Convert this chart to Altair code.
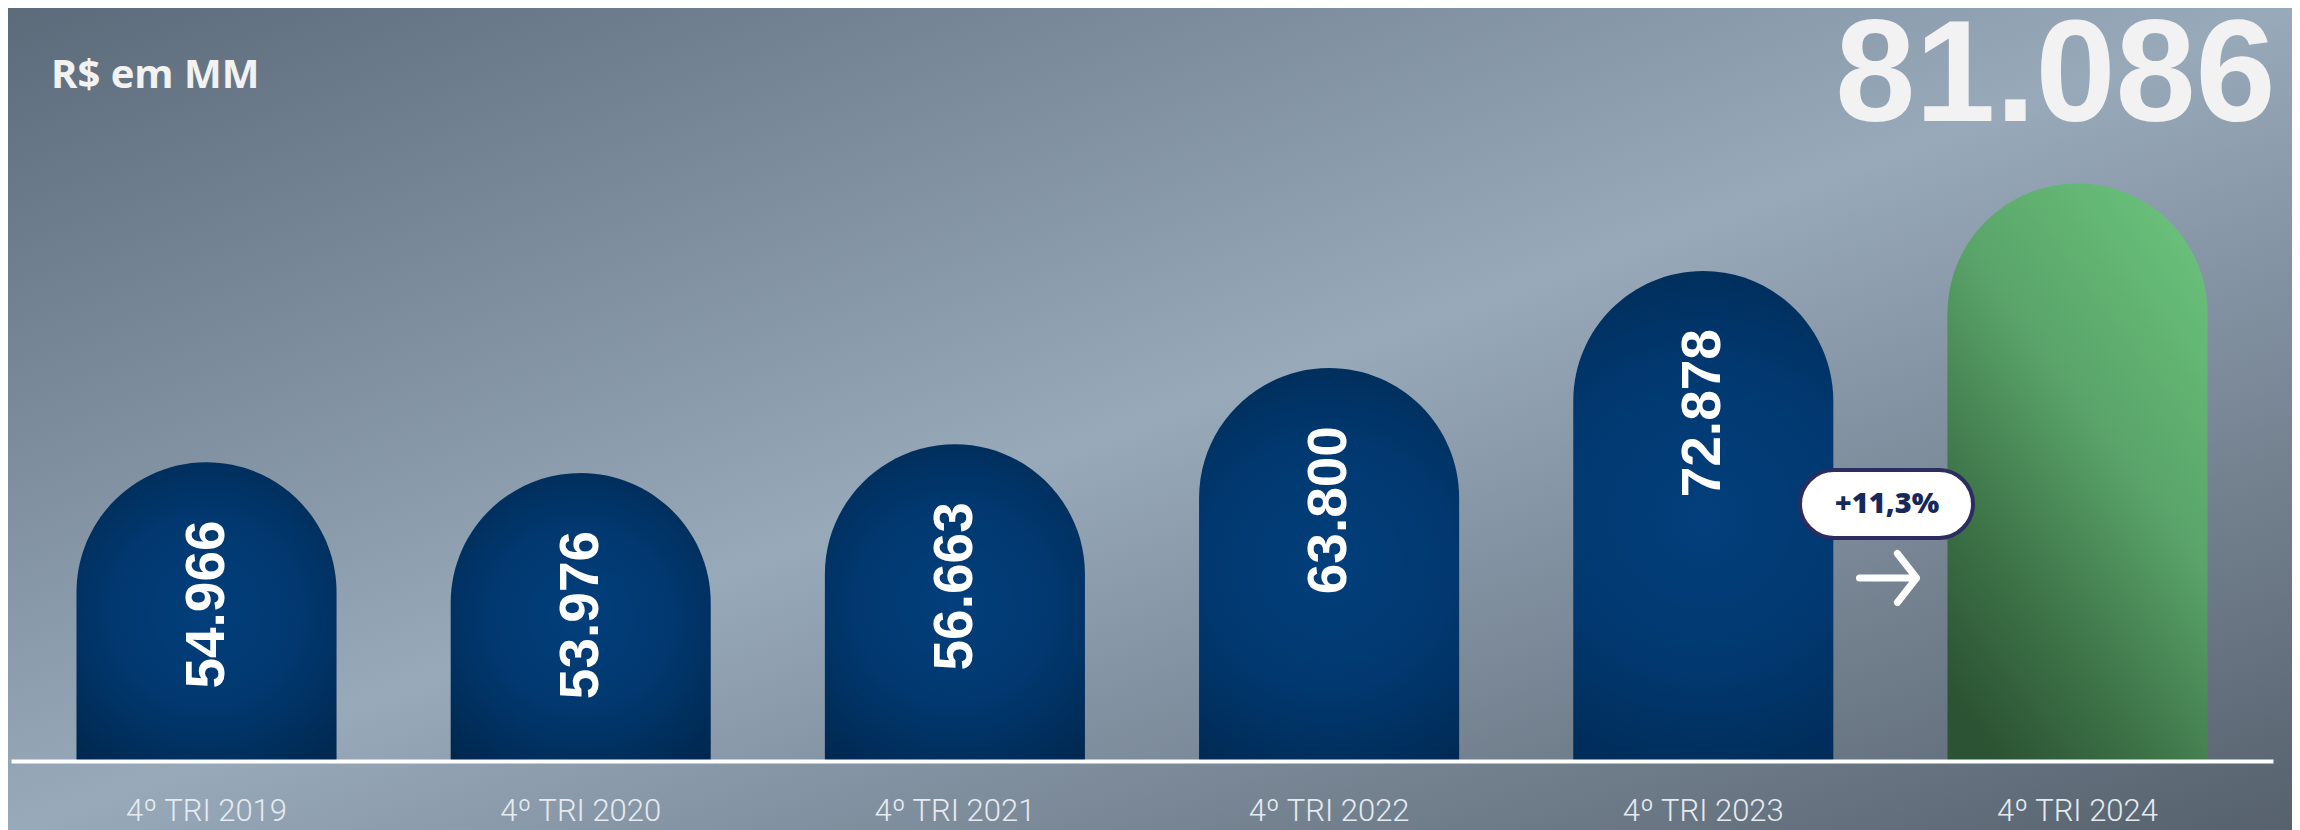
import altair as alt
import pandas as pd

# ---- data -------------------------------------------------------------
categories = ["4º TRI 2019", "4º TRI 2020", "4º TRI 2021", "4º TRI 2022", "4º TRI 2023", "4º TRI 2024"]
values = [54966, 53976, 56663, 63800, 72878, 81086]
highlight = [False, False, False, False, False, True]
unit_label = "R$ em MM"
growth_label = "+11,3%"

value_labels = [f"{v:,}".replace(",", ".") for v in values]

df = pd.DataFrame({
    "cat": categories,
    "value": values,
    "label": value_labels,
    "highlight": highlight,
})

# ---- layout -------------------------------------------------------------
W, H = 2262, 661
PAD_L, PAD_T = 3, 92
SVG_W, SVG_H = 2284, 822
PAD_R = SVG_W - PAD_L - W
PAD_B = SVG_H - PAD_T - H
Y_MIN, Y_MAX = 27000, 88900

x_enc = alt.X(
    "cat:N",
    sort=categories,
    scale=alt.Scale(paddingInner=0.305, paddingOuter=0.175),
    axis=alt.Axis(
        title=None,
        domainColor="#ffffff",
        domainWidth=4,
        ticks=False,
        tickSize=0,
        labelAngle=0,
        labelFont="Roboto",
        labelFontWeight=300,
        labelFontSize=31,
        labelColor="#e6ebf1",
        labelBaseline="alphabetic",
        labelPadding=59,
        zindex=2,
    ),
)
y_enc = alt.Y("value:Q", scale=alt.Scale(domain=[Y_MIN, Y_MAX], zero=False, nice=False), axis=None)
y2_enc = alt.datum(Y_MIN)

base = alt.Chart(df)

background = alt.Chart(pd.DataFrame({"k": [0]})).mark_rect(
    color=alt.Gradient(
        gradient="linear", x1=0, y1=0, x2=1, y2=1,
        stops=[
            alt.GradientStop(offset=0, color="#5c6b7a"),
            alt.GradientStop(offset=0.5, color="#98a9ba"),
            alt.GradientStop(offset=1, color="#56616d"),
        ],
    )
).encode(
    x=alt.value(-PAD_L), x2=alt.value(W + PAD_R),
    y=alt.value(-PAD_T), y2=alt.value(H + PAD_B),
)

blue_bars = base.transform_filter("!datum.highlight").mark_bar(
    cornerRadiusTopLeft=130,
    cornerRadiusTopRight=130,
    color=alt.Gradient(
        gradient="radial", x1=0.5, y1=0.5, r1=0, x2=0.5, y2=0.5, r2=0.7,
        stops=[
            alt.GradientStop(offset=0, color="#033f7c"),
            alt.GradientStop(offset=0.45, color="#01386f"),
            alt.GradientStop(offset=1, color="#00254a"),
        ],
    ),
).encode(x=x_enc, y=y_enc, y2=y2_enc)

green_bar = base.transform_filter("datum.highlight").mark_bar(
    cornerRadiusTopLeft=130,
    cornerRadiusTopRight=130,
    color=alt.Gradient(
        gradient="linear", x1=0.8, y1=0, x2=0.2, y2=1,
        stops=[
            alt.GradientStop(offset=0, color="#69c17a"),
            alt.GradientStop(offset=0.4, color="#5aa46a"),
            alt.GradientStop(offset=0.75, color="#3c7146"),
            alt.GradientStop(offset=1, color="#2c5333"),
        ],
    ),
).encode(x=x_enc, y=y_enc, y2=y2_enc)

bar_labels = base.transform_filter("!datum.highlight").mark_text(
    angle=270,
    align="right",
    baseline="middle",
    dx=-58,
    font="Liberation Sans",
    fontWeight="bold",
    fontSize=55,
    color="#ffffff",
).encode(x=x_enc, y=y_enc, text="label:N")

big_label = base.transform_filter("datum.highlight").mark_text(
    align="center",
    baseline="alphabetic",
    xOffset=-22,
    font="Liberation Sans",
    fontWeight="bold",
    fontSize=144,
    color="#f2f2f2",
).encode(x=x_enc, y=alt.value(21), text="label:N")

header = alt.Chart(pd.DataFrame({"t": [unit_label]})).mark_text(
    align="left",
    baseline="alphabetic",
    font="Open Sans",
    fontWeight=700,
    fontSize=40,
    color="#f2f2f2",
).encode(x=alt.value(40), y=alt.value(-12), text="t:N")

pill = alt.Chart(pd.DataFrame({"t": [growth_label]})).mark_rect(
    cornerRadius=34,
    fill="#ffffff",
    stroke="#2b2c5f",
    strokeWidth=4,
).encode(x=alt.value(1789), x2=alt.value(1962), y=alt.value(370), y2=alt.value(438))

pill_text = alt.Chart(pd.DataFrame({"t": [growth_label]})).mark_text(
    align="center",
    baseline="middle",
    font="Open Sans",
    fontWeight=800,
    fontSize=29,
    color="#16295a",
).encode(x=alt.value(1876), y=alt.value(404), text="t:N")

arrow = alt.Chart(pd.DataFrame({"t": [growth_label]})).mark_point(
    shape="M-1,0L1,0M0.33,-0.86L1,0L0.33,0.86",
    size=3249,
    filled=False,
    stroke="#ffffff",
    strokeWidth=7,
    strokeCap="round",
    strokeJoin="round",
    opacity=1,
).encode(x=alt.value(1877), y=alt.value(478))

chart = alt.layer(
    background, blue_bars, green_bar, bar_labels, big_label, header, pill, pill_text, arrow
).properties(
    width=W,
    height=H,
    padding={"left": PAD_L, "top": PAD_T, "right": PAD_R, "bottom": PAD_B},
    autosize=alt.AutoSizeParams(type="none"),
    background="#7d8ea0",
).configure_view(stroke=None)

chart.save("out.html", embed_options={"renderer": "svg", "actions": False})
